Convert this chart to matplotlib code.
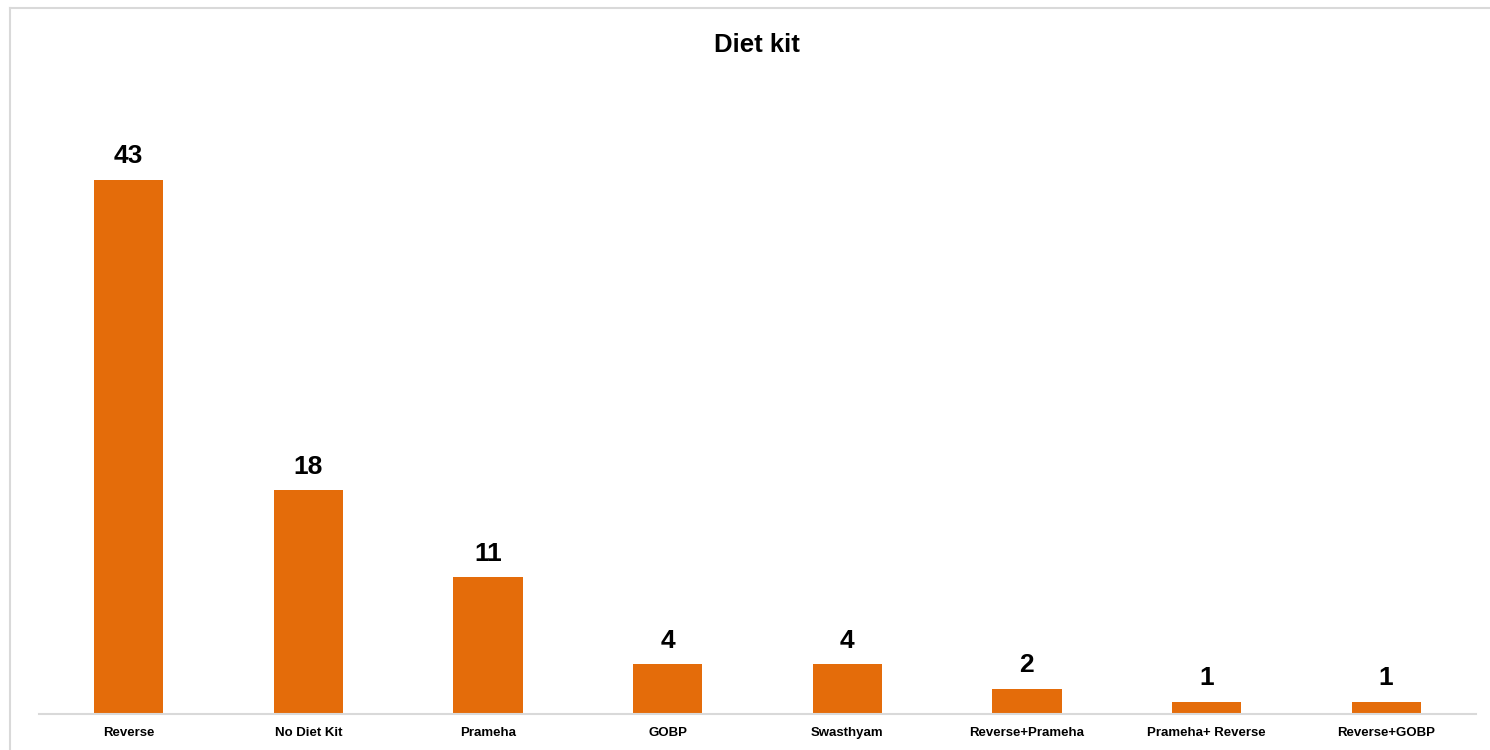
import matplotlib.pyplot as plt
from matplotlib.lines import Line2D

# data
kits = ['Reverse', 'No Diet Kit', 'Prameha', 'GOBP', 'Swasthyam',
        'Reverse+Prameha', 'Prameha+ Reverse', 'Reverse+GOBP']
counts = [43, 18, 11, 4, 4, 2, 1, 1]

plt.rcParams['font.family'] = ['Liberation Sans', 'DejaVu Sans']

fig = plt.figure(figsize=(14.9, 7.5), dpi=100)
W, H = 1490, 750

# light gray frame round the chart area
fig.add_artist(Line2D([10 / W, 10 / W], [0, 1 - 8 / H], color='#d9d9d9', lw=1.5))
fig.add_artist(Line2D([10 / W, 1], [1 - 8 / H, 1 - 8 / H], color='#d9d9d9', lw=1.5))

ax = fig.add_axes([39 / W, 36 / H, (1476 - 39) / W, (714 - 93) / H])
x = range(len(kits))
bars = ax.bar(x, counts, width=0.385, color='#e46c0a')
ax.set_xlim(-0.5, len(kits) - 0.5)
ax.set_ylim(0, 50)

for b, v in zip(bars, counts):
    ax.annotate(str(v), (b.get_x() + b.get_width() / 2, v), xytext=(0, 12),
                textcoords='offset points', ha='center', va='baseline',
                fontsize=19, fontweight='bold', color='black')

ax.set_xticks(list(x))
ax.set_xticklabels(kits, fontsize=9.5, fontweight='bold')
ax.tick_params(axis='x', length=0, pad=9.5)
ax.set_yticks([])
for s in ['top', 'right', 'left']:
    ax.spines[s].set_visible(False)
ax.spines['bottom'].set_color('#d9d9d9')
ax.spines['bottom'].set_linewidth(1.5)

fig.text(757 / W, 1 - 45 / H, 'Diet kit', ha='center', va='center',
         fontsize=18.5, fontweight='bold')

plt.savefig('out.png', dpi=100)
